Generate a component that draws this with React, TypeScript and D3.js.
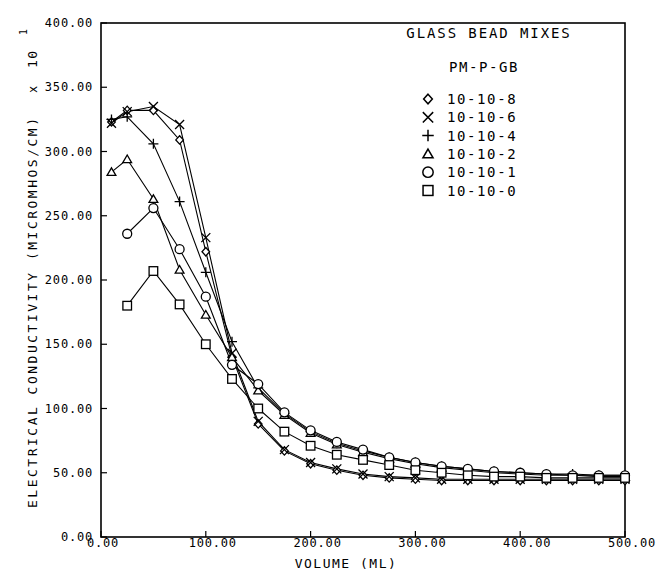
import React from "react";
import * as d3 from "d3";

const volumes = [10, 25, 50, 75, 100, 125, 150, 175, 200, 225, 250, 275, 300, 325, 350, 375, 400, 425, 450, 475, 500];

const mix8 = [323, 332, 332, 309, 222, 140, 88, 67, 57, 52, 48, 46, 45, 44, 44, 44, 44, 44, 44, 44, 44];
const mix6 = [322, 331, 335, 321, 233, 143, 90, 68, 58, 53, 49, 47, 46, 45, 45, 45, 45, 45, 45, 45, 45];
const mix4 = [325, 327, 306, 261, 206, 152, 116, 96, 82, 73, 67, 62, 58, 55, 53, 51, 50, 49, 49, 48, 48];
const mix2 = [284, 294, 263, 208, 173, 140, 114, 95, 81, 72, 66, 61, 57, 54, 52, 50, 49, 48, 48, 47, 47];
const mix1 = [null, 236, 256, 224, 187, 134, 119, 97, 83, 74, 68, 62, 58, 55, 53, 51, 50, 49, 48, 48, 48];
const mix0 = [null, 180, 207, 181, 150, 123, 100, 82, 71, 64, 60, 56, 52, 50, 48, 47, 47, 46, 46, 46, 46];

const seriesNames = ["10-10-8", "10-10-6", "10-10-4", "10-10-2", "10-10-1", "10-10-0"];
const seriesMarkers = ["diamond", "cross", "plus", "triangle", "circle", "square"];
const seriesValues = [mix8, mix6, mix4, mix2, mix1, mix0];

const yTicks = [0, 50, 100, 150, 200, 250, 300, 350, 400];
const xTicks = [0, 100, 200, 300, 400, 500];

const FONT = "'DejaVu Sans Mono', 'Liberation Mono', monospace";

function Marker({ type, cx, cy, s = 1 }: { type: string; cx: number; cy: number; s?: number }) {
  const common = { fill: "white", stroke: "black", strokeWidth: 1.3 };
  const t = `translate(${cx},${cy}) scale(${s})`;
  switch (type) {
    case "diamond":
      return <path transform={t} d="M0,-4.2L3.8,0L0,4.2L-3.8,0Z" {...common} />;
    case "cross":
      return <path transform={t} d="M-4.5,-4.5L4.5,4.5M-4.5,4.5L4.5,-4.5" {...common} fill="none" />;
    case "plus":
      return <path transform={t} d="M-5,0L5,0M0,-5L0,5" {...common} fill="none" />;
    case "triangle":
      return <path transform={t} d="M0,-4.2L4.4,3.4L-4.4,3.4Z" {...common} />;
    case "circle":
      return <circle transform={t} r={4.5} {...common} />;
    case "square":
      return <rect transform={t} x={-4.3} y={-4.3} width={8.6} height={8.6} {...common} />;
  }
  return null;
}

export default function App() {
  const W = 664;
  const H = 571;
  const x = d3.scaleLinear().domain([0, 500]).range([101, 625]);
  const y = d3.scaleLinear().domain([0, 400]).range([537, 23]);
  const fmt = d3.format(".2f");

  const line = d3
    .line<[number, number | null]>()
    .defined((d) => d[1] !== null)
    .x((d) => x(d[0]))
    .y((d) => y(d[1] as number));

  const legendX = 428;
  const legendY0 = 99;
  const legendDY = 18.3;

  return (
    <svg
      width={W}
      height={H}
      viewBox={`0 0 ${W} ${H}`}
      style={{ position: "absolute", left: 0, top: 0, background: "white" }}
    >
      <rect x={0} y={0} width={W} height={H} fill="white" />
      {/* frame */}
      <rect x={x(0)} y={y(400)} width={x(500) - x(0)} height={y(0) - y(400)} fill="none" stroke="black" strokeWidth={1.6} />

      {/* y ticks */}
      {yTicks.map((t) => (
        <g key={"y" + t}>
          <line x1={x(0)} x2={x(0) + 6} y1={y(t)} y2={y(t)} stroke="black" strokeWidth={1.2} />
          <text
            x={93}
            y={y(t) + 4}
            textAnchor="end"
            fontFamily={FONT}
            fontSize={12}
            letterSpacing={0.8}
            fill="black"
          >
            {fmt(t)}
          </text>
        </g>
      ))}

      {/* x ticks */}
      {xTicks.map((t) => (
        <g key={"x" + t}>
          <line x1={x(t)} x2={x(t)} y1={y(0)} y2={y(0) - 6} stroke="black" strokeWidth={1.2} />
          <text
            x={x(t) + (t === 0 ? 2 : 7)}
            y={547}
            textAnchor="middle"
            fontFamily={FONT}
            fontSize={12}
            letterSpacing={0.8}
            fill="black"
          >
            {fmt(t)}
          </text>
        </g>
      ))}

      {/* axis titles */}
      <text x={346} y={568} textAnchor="middle" fontFamily={FONT} fontSize={13} letterSpacing={1.5} fill="black">
        VOLUME (ML)
      </text>
      <g transform="translate(37,0)">
        <text
          transform="rotate(-90)"
          x={-508}
          y={0}
          fontFamily={FONT}
          fontSize={13}
          textLength={390}
          lengthAdjust="spacing"
          fill="black"
        >
          ELECTRICAL CONDUCTIVITY (MICROMHOS/CM)
        </text>
        <text transform="rotate(-90)" x={-93} y={0} fontFamily={FONT} fontSize={12} fill="black">
          x
        </text>
        <text transform="rotate(-90)" x={-68} y={0} fontFamily={FONT} fontSize={13} letterSpacing={1.5} fill="black">
          10
        </text>
        <text transform="rotate(-90)" x={-35} y={-10} fontFamily={FONT} fontSize={10} fill="black">
          1
        </text>
      </g>

      {/* series lines */}
      {seriesValues.map((vals, i) => {
        const pts: [number, number | null][] = volumes.map((v, j) => [v, vals[j]]);
        return <path key={"l" + i} d={line(pts) || ""} fill="none" stroke="black" strokeWidth={1.1} />;
      })}

      {/* markers */}
      {seriesValues.map((vals, i) => (
        <g key={"m" + i}>
          {volumes.map((v, j) =>
            vals[j] === null ? null : (
              <Marker key={j} type={seriesMarkers[i]} cx={x(v)} cy={y(vals[j] as number)} />
            )
          )}
        </g>
      ))}

      {/* legend */}
      <text x={489} y={38} textAnchor="middle" fontFamily={FONT} fontSize={14} letterSpacing={1.9} fill="black">
        GLASS BEAD MIXES
      </text>
      <text x={484} y={72} textAnchor="middle" fontFamily={FONT} fontSize={14} letterSpacing={1.6} fill="black">
        PM-P-GB
      </text>
      {seriesNames.map((name, i) => (
        <g key={"lg" + i}>
          <Marker type={seriesMarkers[i]} cx={legendX} cy={legendY0 + i * legendDY} s={1.15} />
          <text
            x={447}
            y={legendY0 + i * legendDY + 5}
            fontFamily={FONT}
            fontSize={14}
            letterSpacing={1.6}
            fill="black"
          >
            {name}
          </text>
        </g>
      ))}
    </svg>
  );
}
